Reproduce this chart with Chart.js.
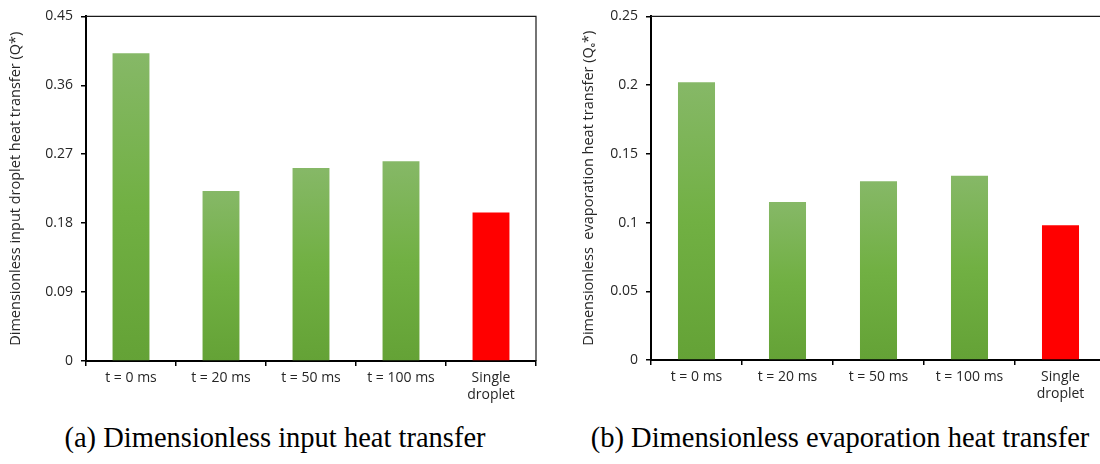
<!DOCTYPE html>
<html>
<head>
<meta charset="utf-8">
<script src="https://cdn.jsdelivr.net/npm/chart.js@4.4.1/dist/chart.umd.min.js"></script>
<style>
  html, body { margin: 0; padding: 0; background: #fff; overflow: hidden; width: 1100px; height: 464px; }
  .box { position: absolute; top: 0; height: 420px; }
  #boxA { left: 0; width: 560px; }
  #boxB { left: 560px; width: 560px; }
  .caption { position: absolute; top: 421px; font-family: "Liberation Serif", "Times New Roman", serif; font-size: 28.5px; line-height: 34px; color: #000; white-space: nowrap; transform: translateX(-50%); }
</style>
</head>
<body>
<div class="box" id="boxA"><canvas id="chartA" width="560" height="420"></canvas></div>
<div class="box" id="boxB"><canvas id="chartB" width="560" height="420"></canvas></div>
<div class="caption" style="left:275px">(a) Dimensionless input heat transfer</div>
<div class="caption" style="left:840px">(b) Dimensionless evaporation heat transfer</div>
<script>
// Cases compared in both panels
const categories = [['t = 0 ms'], ['t = 20 ms'], ['t = 50 ms'], ['t = 100 ms'], ['Single', 'droplet']];

// (a) Dimensionless input droplet heat transfer Q*
const inputHeat = [0.402, 0.222, 0.252, 0.261, 0.194];
const inputTicks = [0, 0.09, 0.18, 0.27, 0.36, 0.45];

// (b) Dimensionless evaporation heat transfer Qe*
const evapHeat = [0.202, 0.115, 0.130, 0.134, 0.098];
const evapTicks = [0, 0.05, 0.1, 0.15, 0.2, 0.25];

const TEXT = '#262626';
const FONT = '"Open Sans", Lato, "Liberation Sans", sans-serif';

// Per-bar vertical gradient for the spray cases, solid red for the single droplet
function barFill(ctx) {
  const chart = ctx.chart;
  const ys = chart.scales.y;
  if (!chart.chartArea || ctx.dataIndex === undefined) return '#70b042';
  if (ctx.dataIndex === categories.length - 1) return '#ff0000';
  const v = ctx.dataset.data[ctx.dataIndex];
  const top = ys.getPixelForValue(v);
  const bottom = ys.getPixelForValue(0);
  const g = chart.ctx.createLinearGradient(0, top, 0, bottom);
  g.addColorStop(0, '#86b867');
  g.addColorStop(0.5, '#71b043');
  g.addColorStop(1, '#64a236');
  return g;
}

// Thin frame on the top and right edges of the plot area
const framePlugin = {
  id: 'frame',
  afterDraw(chart) {
    const { ctx, chartArea: a } = chart;
    ctx.save();
    ctx.strokeStyle = '#1a1a1a';
    ctx.lineWidth = 1.2;
    ctx.beginPath();
    ctx.moveTo(a.left, a.top);
    ctx.lineTo(a.right, a.top);
    ctx.lineTo(a.right, a.bottom);
    ctx.stroke();
    ctx.restore();
  }
};

function makeChart(id, values, ticks, title, geom) {
  const step = ticks[1] - ticks[0];
  return new Chart(document.getElementById(id), {
    type: 'bar',
    data: {
      labels: categories,
      datasets: [{
        data: values,
        backgroundColor: barFill,
        borderWidth: 0,
        barPercentage: geom.barPct,
        categoryPercentage: 1
      }]
    },
    options: {
      responsive: false,
      animation: false,
      events: [],
      layout: { padding: { top: geom.top, right: geom.right, left: 0, bottom: 0 } },
      plugins: { legend: { display: false }, tooltip: { enabled: false } },
      scales: {
        x: {
          offset: true,
          grid: { display: true, drawOnChartArea: false, offset: true, tickLength: 5, color: '#000', lineWidth: 1.5 },
          border: { display: true, color: '#000', width: 2 },
          ticks: { color: TEXT, font: { family: FONT, size: 14 }, padding: 4, maxRotation: 0, autoSkip: false },
          afterFit(s) { s.height = geom.xHeight; }
        },
        y: {
          min: ticks[0],
          max: ticks[ticks.length - 1],
          afterBuildTicks(s) { s.ticks = ticks.map(v => ({ value: v })); },
          grid: { display: true, drawOnChartArea: false, tickLength: 5, color: '#000', lineWidth: 1.5 },
          border: { display: true, color: '#000', width: 2 },
          ticks: {
            stepSize: step,
            color: TEXT,
            font: { family: FONT, size: 14 },
            padding: 8,
            callback: v => String(Number(v.toFixed(2)))
          },
          title: {
            display: true,
            text: title,
            color: TEXT,
            font: { family: FONT, size: 14.5 },
            padding: { top: geom.titlePad, bottom: 0 }
          },
          afterFit(s) { s.width = geom.yWidth; }
        }
      }
    },
    plugins: [framePlugin]
  });
}

makeChart('chartA', inputHeat, inputTicks, 'Dimensionless input droplet heat transfer (Q*)',
  { top: 13, right: 24, yWidth: 86, xHeight: 59, barPct: 0.41, titlePad: 7 });

makeChart('chartB', evapHeat, evapTicks, 'Dimensionless  evaporation heat transfer (Qₑ*)',
  { top: 9, right: 14, yWidth: 91, xHeight: 60, barPct: 0.407, titlePad: 20 });
</script>
</body>
</html>
